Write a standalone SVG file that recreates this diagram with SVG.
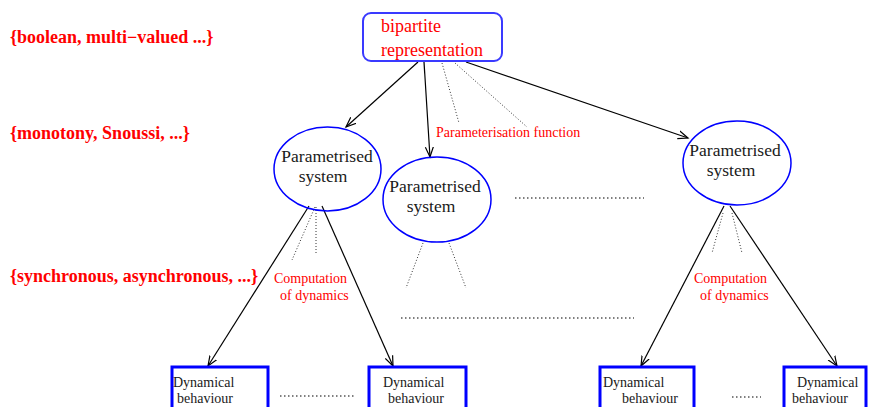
<svg xmlns="http://www.w3.org/2000/svg" width="874" height="407" viewBox="0 0 874 407">
  <style>
    .lbl { font-family: "Liberation Serif", "Times New Roman", serif; font-weight: bold; font-size: 18px; fill: #ff0000; }
    .red { font-family: "Liberation Serif", "Times New Roman", serif; fill: #ff0000; }
    .blk { font-family: "Liberation Serif", "Times New Roman", serif; fill: #1a1a1a; }
    .ps { font-size: 17.5px; text-anchor: middle; }
    .ell { fill: none; stroke: #0000ff; stroke-width: 1.5; }
    .box { fill: none; stroke: #0000ff; stroke-width: 3; }
    .arr { stroke: #000; stroke-width: 1.2; fill: none; marker-end: url(#head); }
    .dot { stroke: #333; stroke-width: 1; fill: none; stroke-dasharray: 1 2; }
    .hdot { stroke: #000; stroke-width: 1.2; fill: none; stroke-dasharray: 1.5 2.5; }
  </style>
  <defs>
    <marker id="head" markerUnits="userSpaceOnUse" markerWidth="12" markerHeight="10" refX="10" refY="5" orient="auto">
      <path d="M0,1 L10,5 L0,9" fill="none" stroke="#000" stroke-width="1.2"/>
    </marker>
  </defs>
  <rect width="874" height="407" fill="#fff"/>

  <!-- level labels -->
  <g id="labels">
    <text class="lbl" x="10" y="43">{boolean, multi−valued ...}</text>
    <text class="lbl" x="10" y="139">{monotony, Snoussi, ...}</text>
    <text class="lbl" x="10" y="282">{synchronous, asynchronous, ...}</text>
  </g>

  <!-- connectors -->
  <g id="connectors">
    <line class="arr" x1="418" y1="62" x2="346" y2="127"/>
    <line class="arr" x1="424" y1="62" x2="430" y2="157"/>
    <line class="arr" x1="466" y1="62" x2="688" y2="138"/>
    <line class="dot" x1="442" y1="63" x2="459" y2="123"/>
    <line class="dot" x1="455" y1="63" x2="527" y2="127"/>

    <line class="arr" x1="309" y1="206" x2="208" y2="366"/>
    <line class="arr" x1="322" y1="206" x2="393" y2="366"/>
    <line class="dot" x1="315" y1="207" x2="292" y2="260"/>
    <line class="dot" x1="316" y1="207" x2="316" y2="255"/>

    <line class="dot" x1="423" y1="243" x2="406" y2="288"/>
    <line class="dot" x1="449" y1="243" x2="466" y2="288"/>

    <line class="arr" x1="724" y1="206" x2="641" y2="366"/>
    <line class="arr" x1="730" y1="206" x2="837" y2="366"/>
    <line class="dot" x1="723" y1="213" x2="712" y2="253"/>
    <line class="dot" x1="732" y1="213" x2="742" y2="253"/>

    <line class="hdot" x1="515" y1="198" x2="644" y2="198"/>
    <line class="hdot" x1="401" y1="318" x2="634" y2="318"/>
    <line class="hdot" x1="280" y1="396" x2="356" y2="396"/>
    <line class="hdot" x1="732" y1="397" x2="761" y2="397"/>
  </g>

  <!-- edge annotations -->
  <g id="annotations">
    <text class="red" x="436" y="137" font-size="14">Parameterisation function</text>
    <text class="red" x="274" y="283" font-size="14">Computation</text>
    <text class="red" x="280" y="300" font-size="14">of dynamics</text>
    <text class="red" x="694" y="283" font-size="14">Computation</text>
    <text class="red" x="700" y="300" font-size="14">of dynamics</text>
  </g>

  <g id="bipartite">
    <rect x="363" y="13" width="139" height="48" rx="8" ry="8" fill="none" stroke="#3a3aff" stroke-width="2"/>
    <text class="red" x="381" y="32" font-size="18">bipartite</text>
    <text class="red" x="381" y="56" font-size="18">representation</text>
  </g>

  <g id="param1">
    <ellipse class="ell" cx="327.5" cy="169" rx="53.5" ry="42"/>
    <text class="blk ps" x="327" y="162">Parametrised</text>
    <text class="blk ps" x="323" y="182">system</text>
  </g>
  <g id="param2">
    <ellipse class="ell" cx="437" cy="199.5" rx="54" ry="42.5"/>
    <text class="blk ps" x="435" y="192">Parametrised</text>
    <text class="blk ps" x="431" y="212">system</text>
  </g>
  <g id="param3">
    <ellipse class="ell" cx="737" cy="163" rx="54" ry="42"/>
    <text class="blk ps" x="735" y="156">Parametrised</text>
    <text class="blk ps" x="731" y="176">system</text>
  </g>

  <g id="dyn1">
    <rect class="box" x="172" y="367" width="96" height="50"/>
    <text class="blk" x="173" y="387" font-size="14">Dynamical</text>
    <text class="blk" x="177" y="403" font-size="14">behaviour</text>
  </g>
  <g id="dyn2">
    <rect class="box" x="369" y="367" width="97" height="50"/>
    <text class="blk" x="383" y="387" font-size="14">Dynamical</text>
    <text class="blk" x="388" y="403" font-size="14">behaviour</text>
  </g>
  <g id="dyn3">
    <rect class="box" x="600" y="367" width="94" height="50"/>
    <text class="blk" x="603" y="387" font-size="14">Dynamical</text>
    <text class="blk" x="622" y="403" font-size="14">behaviour</text>
  </g>
  <g id="dyn4">
    <rect class="box" x="784" y="367" width="82" height="50"/>
    <text class="blk" x="797" y="387" font-size="14">Dynamical</text>
    <text class="blk" x="792" y="403" font-size="14">behaviour</text>
  </g>
</svg>
